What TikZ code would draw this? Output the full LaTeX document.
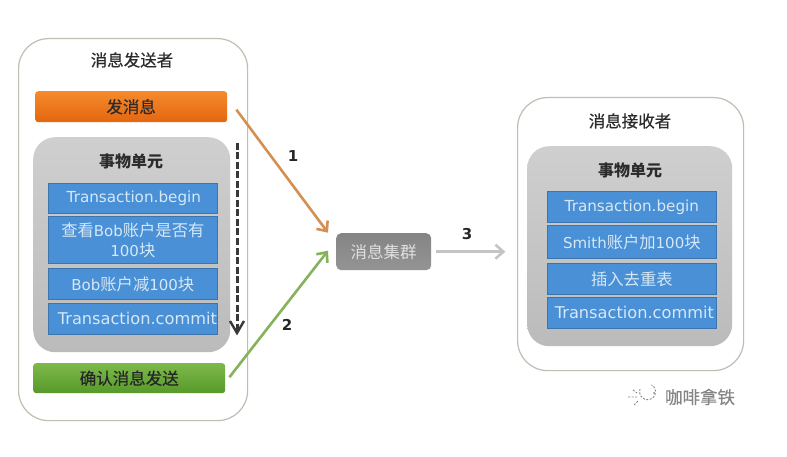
\documentclass[tikz,border=0pt]{standalone}
\usepackage{fontspec}
\setmainfont{Noto Sans CJK SC}
\newfontfamily\latinfont{DejaVu Sans}
\newfontfamily\medfont[FakeBold=0.4]{Noto Sans CJK SC}
\usetikzlibrary{calc,arrows.meta}
\definecolor{outerline}{HTML}{B9C2B0}
\definecolor{bluefill}{HTML}{4A90D6}
\definecolor{blueline}{HTML}{3C74AE}
\definecolor{bluetext}{HTML}{D6E8F6}
\definecolor{darktext}{HTML}{2B2B2B}
\definecolor{grayA}{HTML}{CFCFCF}
\definecolor{grayB}{HTML}{BBBBBB}
\definecolor{orangeA}{HTML}{F58A2C}
\definecolor{orangeB}{HTML}{E4660F}
\definecolor{greenA}{HTML}{7DB94A}
\definecolor{greenB}{HTML}{57992B}
\definecolor{arrowO}{HTML}{D39052}
\definecolor{arrowG}{HTML}{85B25A}
\definecolor{arrowC}{HTML}{C4C4C4}
\definecolor{markgray}{HTML}{858585}
\tikzset{
  x=1pt,y=-1pt,
  box/.style={minimum width=#1,inner sep=0pt,align=center,anchor=north west},
  outerbox/.style={draw=outerline,line width=1.2pt,fill=white,rounded corners=30pt,inner sep=0pt,anchor=north west},
  graybox/.style={top color=grayA,bottom color=grayB,rounded corners=22pt,inner sep=0pt,anchor=north west},
  stepbox/.style={fill=bluefill,draw=blueline,line width=.7pt,text=bluetext,font=\fontsize{16.3}{20}\selectfont,minimum width=169pt,inner sep=0pt,align=center,anchor=north west},
  title/.style={text=darktext,font=\fontsize{16.5}{20}\selectfont\medfont,inner sep=0pt},
  titleb/.style={text=darktext,font=\fontsize{16}{18}\selectfont\bfseries,inner sep=0pt},
  flowarrow/.style={line width=2.6pt,-{Straight Barb[length=8pt,width=14pt,line width=2.6pt]}},
  numlabel/.style={font=\fontsize{15}{17}\selectfont\bfseries\latinfont,text=black!85,inner sep=0pt},
}
\begin{document}
\begin{tikzpicture}
\useasboundingbox (0,0) rectangle (787,457);
% sender
\node[outerbox,minimum width=229pt,minimum height=382pt] (sender) at (18,38) {};
\node[title] (sendertitle) at (132,60) {消息发送者};
\node[box=192pt,minimum height=31pt,rounded corners=3pt,top color=orangeA,bottom color=orangeB,text=darktext,font=\fontsize{16.5}{20}\selectfont\medfont] (send) at (35,91) {发消息};
\node[graybox,minimum width=197pt,minimum height=215pt] (unitL) at (33,137) {};
\node[titleb] (unitLt) at (131,161) {事物单元};
\node[stepbox,minimum height=30pt] (l1) at (48,183) {\fontsize{15.2}{18}\selectfont\latinfont\hspace*{2pt}Transaction.begin};
\node[stepbox,minimum height=47pt] (l2) at (48,216) {查看{\fontsize{15}{18}\selectfont\latinfont Bob}账户是否有\\{\fontsize{15}{18}\selectfont\latinfont 100}块};
\node[stepbox,minimum height=31pt] (l3) at (48,268) {{\fontsize{15}{18}\selectfont\latinfont Bob}账户减{\fontsize{15}{18}\selectfont\latinfont 100}块};
\node[stepbox,minimum height=31pt] (l4) at (48,303) {\fontsize{16.2}{18}\selectfont\latinfont\hspace*{9pt}Transaction.commit};
\node[box=192pt,minimum height=30pt,rounded corners=3pt,top color=greenA,bottom color=greenB,text=black!85,font=\fontsize{16.5}{20}\selectfont\medfont] (confirm) at (33,363) {确认消息发送};
% dashed arrow
\coordinate (dashA) at (237,143);
\coordinate (dashB) at (237,333);
\draw[line width=3pt,black!78,dash pattern=on 7pt off 2.5pt] (dashA) -- ($(dashB)+(0,-3)$);
\draw[line width=2.4pt,black!78] ($(dashB)+(-7,-12)$) -- (dashB) -- ($(dashB)+(7,-12)$);
% cluster
\node[box=95pt,minimum height=37pt,rounded corners=5pt,top color=black!48,bottom color=black!42,text=white!88!black,font=\fontsize{16.5}{20}\selectfont] (cluster) at (336,233) {消息集群};
% receiver
\node[outerbox,minimum width=226pt,minimum height=273pt] (receiver) at (517,97) {};
\node[title] (receivertitle) at (630,121) {消息接收者};
\node[graybox,minimum width=205pt,minimum height=200pt] (unitR) at (527,146) {};
\node[titleb] (unitRt) at (630,170) {事物单元};
\node[stepbox,minimum height=31pt] (r1) at (547,191) {\fontsize{15.2}{18}\selectfont\latinfont Transaction.begin};
\node[stepbox,minimum height=33pt] (r2) at (547,225) {{\fontsize{15}{18}\selectfont\latinfont Smith}账户加{\fontsize{15}{18}\selectfont\latinfont 100}块};
\node[stepbox,minimum height=31pt] (r3) at (547,263) {插入去重表};
\node[stepbox,minimum height=31pt] (r4) at (547,297) {\fontsize{16.2}{18}\selectfont\latinfont\hspace*{5pt}Transaction.commit};
% arrows
\draw[flowarrow,arrowO] ($(send.east)+(9,3)$) -- ($(cluster.west)+(-8,-19)$);
\draw[flowarrow,arrowG] ($(confirm.east)+(4,-1)$) -- ($(cluster.west)+(-8,-1)$);
\draw[flowarrow,arrowC] ($(cluster.east)+(5,0)$) -- ($(cluster.east)+(74,0)$);
\node[numlabel] (n1) at (293,156) {1};
\node[numlabel] (n2) at (287,325) {2};
\node[numlabel] (n3) at (467,234) {3};
% watermark
\node[text=markgray,inner sep=0pt,font=\fontsize{17.5}{20}\selectfont\medfont] (mark) at (700,397) {咖啡拿铁};
\draw[markgray,line width=.9pt,dash pattern=on 2pt off 1.5pt] (640,389) arc (200:-60:8);
\draw[markgray,line width=.9pt,dash pattern=on 2pt off 1.5pt] (628,397) -- (638,397) (633,390) -- (637,393) (634,405) -- (638,401);
\fill[markgray] (654,393) circle (1pt);
\end{tikzpicture}
\end{document}
